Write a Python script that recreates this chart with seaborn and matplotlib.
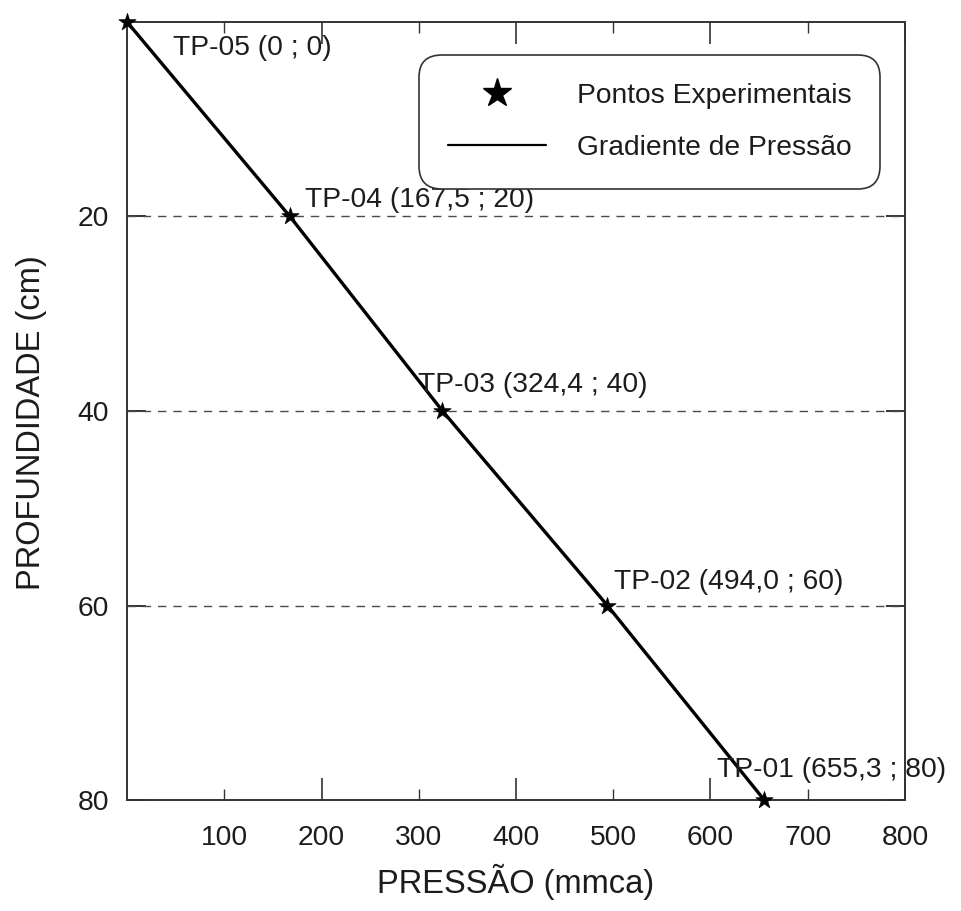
import matplotlib
matplotlib.use("Agg")
import matplotlib.pyplot as plt
from matplotlib.lines import Line2D
from matplotlib.ticker import FixedLocator, FixedFormatter
import seaborn as sns
import pandas as pd

# Pressure profile measured at the test points
pontos = ["TP-05", "TP-04", "TP-03", "TP-02", "TP-01"]
pressao = [0.0, 167.5, 324.4, 494.0, 655.3]      # mmca
profundidade = [0, 20, 40, 60, 80]               # cm
rotulos = ["TP-05 (0 ; 0)", "TP-04 (167,5 ; 20)", "TP-03 (324,4 ; 40)",
           "TP-02 (494,0 ; 60)", "TP-01 (655,3 ; 80)"]
# label anchor (left edge, vertical centre) in data units
rot_x = [47, 183, 299, 501, 607]
rot_y = [2.7, 18.3, 37.3, 57.6, 76.9]

x_major = [200, 400, 600, 800]
x_minor = [100, 300, 500, 700]
y_ticks = [20, 40, 60, 80]
y_grid = [20, 40, 60]

df = pd.DataFrame({"ponto": pontos, "pressao": pressao, "profundidade": profundidade})

sns.set_style("white")
plt.rcParams["font.family"] = ["Liberation Sans", "DejaVu Sans"]
INK = "#1c1c1c"
FS = 20.3

fig = plt.figure(figsize=(9.61, 9.11), dpi=100)
ax = fig.add_axes([0.1322, 0.1218, 0.9417 - 0.1322, 0.9759 - 0.1218])

# dashed reference lines at each measured depth
for yv in y_grid:
    ax.axhline(yv, color="#4a4a4a", lw=1.0, ls=(0, (6, 5)), zorder=1)

sns.lineplot(data=df, x="pressao", y="profundidade", sort=False, color="black",
             lw=2.4, ax=ax, zorder=3)
sns.scatterplot(data=df, x="pressao", y="profundidade", marker="*", s=170,
                color="black", edgecolor="black", linewidth=0.5, ax=ax,
                zorder=4, clip_on=False)

for txt, xx, yy in zip(rotulos, rot_x, rot_y):
    ax.text(xx, yy, txt, fontsize=FS, color=INK, ha="left", va="center")

ax.set_xlim(0, 800)
ax.set_ylim(80, 0)

ax.xaxis.set_major_locator(FixedLocator(x_major))
ax.xaxis.set_major_formatter(FixedFormatter([str(v) for v in x_major]))
ax.xaxis.set_minor_locator(FixedLocator(x_minor))
ax.xaxis.set_minor_formatter(FixedFormatter([str(v) for v in x_minor]))
ax.set_yticks(y_ticks)
ax.set_yticklabels([str(v) for v in y_ticks])

ax.tick_params(axis="x", which="major", direction="in", length=16, width=1.2,
               top=True, bottom=True, pad=18, labelsize=FS, labelcolor=INK, color="#333333")
ax.tick_params(axis="x", which="minor", direction="in", length=8, width=1.0,
               top=True, bottom=True, pad=18, labelsize=FS, labelcolor=INK, color="#333333")
ax.tick_params(axis="y", which="major", direction="in", length=14, width=1.4,
               left=True, right=True, pad=13, labelsize=FS, labelcolor=INK, color="#333333")

for sp in ax.spines.values():
    sp.set_visible(True)
    sp.set_color("#333333")
    sp.set_linewidth(1.4)

ax.set_xlabel("PRESSÃO (mmca)", fontsize=23.5, color=INK, labelpad=9)
ax.set_ylabel("PROFUNDIDADE (cm)", fontsize=23.5, color=INK)
ax.yaxis.set_label_coords(-0.103, 0.485)

handles = [
    Line2D([], [], marker="*", color="black", ls="none", markersize=21),
    Line2D([], [], color="black", lw=1.6),
]
leg = ax.legend(handles, ["Pontos Experimentais", "Gradiente de Pressão"],
                loc="upper right", bbox_to_anchor=(0.968, 0.958), borderaxespad=0,
                fontsize=FS, handlelength=3.5, handletextpad=1.1,
                labelspacing=0.92, borderpad=1.0, frameon=True, fancybox=True,
                framealpha=1)
frame = leg.get_frame()
frame.set_edgecolor("#333333")
frame.set_linewidth(1.2)
frame.set_boxstyle("round", pad=0, rounding_size=0.8)
for t in leg.get_texts():
    t.set_color(INK)

fig.savefig("out.png", dpi=100)
